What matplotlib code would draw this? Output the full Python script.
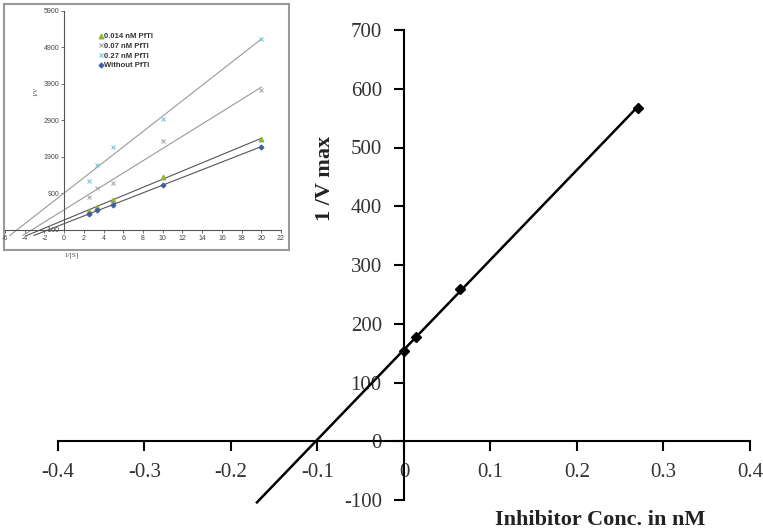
import numpy as np
import matplotlib.pyplot as plt

plt.rcParams['axes.unicode_minus'] = False

# main plot data (inhibitor conc vs 1/Vmax)
inhib_conc = [0.0, 0.014, 0.065, 0.27]
inv_vmax = [153, 177, 260, 568]

# inset data (Lineweaver-Burk)
inv_s = [2.5, 3.33, 5, 10, 20]
v_without = [329, 439, 594, 1132, 2183]
v_0014 = [430, 539, 722, 1361, 2384]
v_007 = [795, 1060, 1197, 2338, 3735]
v_027 = [1233, 1690, 2183, 2932, 5132]
inset_yticks = [-100, 900, 1900, 2900, 3900, 4900, 5900]

fig = plt.figure(figsize=(7.63, 5.32), dpi=100)
serif = 'Liberation Serif'
sans = 'Liberation Sans'

# main axes
ax = fig.add_axes([58/763, 1 - 500/532, 692/763, 470/532])
ax.set_xlim(-0.4, 0.4)
ax.set_ylim(-100, 700)
for s in ['top', 'right']:
    ax.spines[s].set_visible(False)
ax.spines['left'].set_position(('data', 0))
ax.spines['bottom'].set_position(('data', 0))
ax.spines['left'].set_linewidth(1.5)
ax.spines['bottom'].set_linewidth(1.5)
ax.set_xticks(np.arange(-0.4, 0.41, 0.1))
ax.set_xticklabels(['-0.4', '-0.3', '-0.2', '-0.1', '0', '0.1', '0.2', '0.3', '0.4'])
ax.set_yticks(range(-100, 701, 100))
ax.tick_params(axis='x', direction='out', length=7, width=1.5, pad=9,
               labelsize=15, labelcolor='#333333')
ax.tick_params(axis='y', direction='out', length=7, width=1.5, pad=9,
               labelsize=15, labelcolor='#333333')
for lab in ax.get_xticklabels() + ax.get_yticklabels():
    lab.set_fontfamily(serif)

slope, icpt = np.polyfit(inhib_conc, inv_vmax, 1)
xl = np.array([-0.17, inhib_conc[-1]])
ax.plot(xl, slope * xl + icpt, color='black', lw=1.8, clip_on=False)
ax.plot(inhib_conc, inv_vmax, 'D', color='black', ms=5)

fig.text(325/763, 1 - 178/532, '1 /V max', rotation=90, ha='center', va='center',
         fontsize=16, fontweight='bold', family=serif, color='#222222')
fig.text(600/763, 1 - 520/532, 'Inhibitor Conc. in nM', ha='center', va='center',
         fontsize=16, fontweight='bold', family=serif, color='#222222')

# inset frame (empty axes used as a box)
frame = fig.add_axes([4/763, 1 - 250/532, 285/763, 246/532])
frame.set_xticks([])
frame.set_yticks([])
for s in frame.spines.values():
    s.set_color('#999999')
    s.set_linewidth(1.5)

ins = fig.add_axes([5/763, 1 - 237.3/532, 276/763, 230/532])
ins.patch.set_alpha(0)
ins.set_xlim(-6, 22)
ins.set_ylim(-300, 6000)
for s in ['top', 'right']:
    ins.spines[s].set_visible(False)
ins.spines['left'].set_position(('data', 0))
ins.spines['bottom'].set_position(('data', -100))
ins.spines['left'].set_color('#555555')
ins.spines['bottom'].set_color('#555555')
ins.spines['left'].set_linewidth(0.8)
ins.spines['bottom'].set_linewidth(0.8)
ins.spines['left'].set_bounds(-100, 5900)
ins.set_xticks(range(-6, 23, 2))
ins.set_xticklabels([str(v) for v in range(-6, 23, 2)], family=sans)
ins.set_yticks(inset_yticks)
ins.set_yticklabels([str(v) for v in inset_yticks], family=sans)
ins.tick_params(direction='out', length=2, width=0.6, pad=1.5, labelsize=5,
                labelcolor='#444444', color='#555555')

series = [
    (v_027, '#7ec8d8', 'x', '0.27 nM PfTI', '#999999'),
    (v_007, '#aaaaaa', 'x', '0.07 nM PfTI', '#999999'),
    (v_0014, '#8db33a', '^', '0.014 nM PfTI', '#555555'),
    (v_without, '#3d5ea8', 'D', 'Without PfTI', '#555555'),
]
handles = {}
for vals, mc, mk, lab, lc in series:
    m, b = np.polyfit(inv_s, vals, 1)
    x0 = (-250 - b) / m
    xs = np.array([x0, 20])
    ins.plot(xs, m * xs + b, color=lc, lw=0.8)
    h, = ins.plot(inv_s, vals, mk, color=mc, ms=3.5 if mk != 'D' else 2.5,
                  mew=0.8, label=lab)
    handles[lab] = h

order = ['0.014 nM PfTI', '0.07 nM PfTI', '0.27 nM PfTI', 'Without PfTI']
leg = ins.legend([handles[k] for k in order], order, loc='upper left',
                 bbox_to_anchor=(0.325, 0.905), frameon=False, handlelength=0.6,
                 handletextpad=0.1, labelspacing=0.3, borderpad=0,
                 prop={'size': 5.5, 'weight': 'bold', 'family': sans})
for t in leg.get_texts():
    t.set_color('#333333')

ins.text(-2.9, 3700, '1/V', rotation=90, ha='center', va='center', fontsize=4.5,
         color='#444444', family=serif)
ins.text(0.7, -800, '1/[S]', ha='center', va='center', fontsize=5,
         color='#444444', family=serif)

fig.savefig('out.png', dpi=100)
